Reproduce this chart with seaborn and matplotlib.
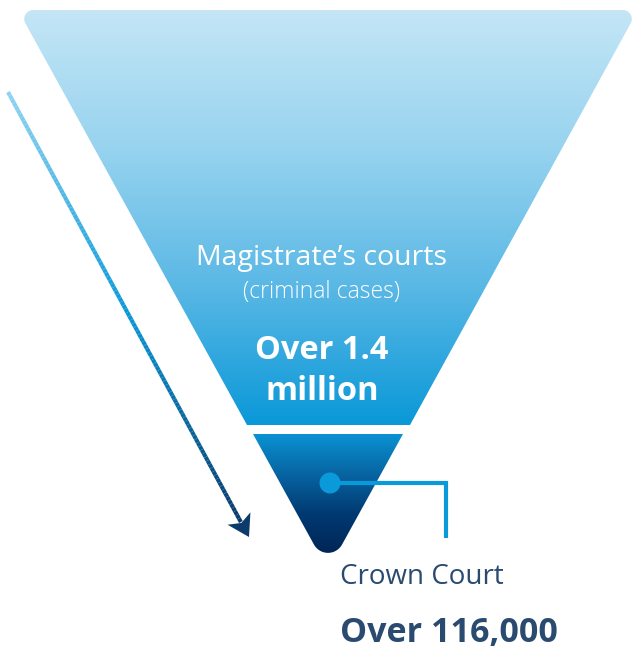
import numpy as np
import matplotlib
matplotlib.use("Agg")
import matplotlib.pyplot as plt
from matplotlib.path import Path
from matplotlib.patches import PathPatch, Circle, Polygon
from matplotlib.collections import LineCollection
import seaborn as sns

# ---- data ----
stages = ["Magistrate\u2019s courts", "Crown Court"]
stage_notes = ["(criminal cases)", ""]
case_labels = ["Over 1.4\nmillion", "Over 116,000"]

sns.set_theme(style="white")
plt.rcParams["font.family"] = ["Open Sans", "DejaVu Sans"]

W, H = 636, 649
fig = plt.figure(figsize=(W / 100, H / 100), dpi=100)
ax = fig.add_axes([0, 0, 1, 1])
ax.set_xlim(0, W)
ax.set_ylim(H, 0)
ax.axis("off")


def filleted_path(pts, radii):
    """Polygon path whose corners are rounded by circular arcs of given radius."""
    pts = [np.array(p, float) for p in pts]
    n = len(pts)
    verts = []
    for i in range(n):
        p, prev, nxt, R = pts[i], pts[i - 1], pts[(i + 1) % n], radii[i]
        if R <= 0:
            verts.append(p)
            continue
        e1 = (prev - p) / np.linalg.norm(prev - p)
        e2 = (nxt - p) / np.linalg.norm(nxt - p)
        half = np.arccos(np.clip(e1 @ e2, -1, 1)) / 2
        bis = (e1 + e2) / np.linalg.norm(e1 + e2)
        c = p + bis * R / np.sin(half)
        a = p + e1 * R / np.tan(half)
        b = p + e2 * R / np.tan(half)
        a0 = np.arctan2(*(a - c)[::-1])
        a1 = np.arctan2(*(b - c)[::-1])
        d = (a1 - a0 + np.pi) % (2 * np.pi) - np.pi
        for t in np.linspace(0, 1, 24):
            ang = a0 + d * t
            verts.append(c + R * np.array([np.cos(ang), np.sin(ang)]))
    verts.append(verts[0])
    codes = [Path.MOVETO] + [Path.LINETO] * (len(verts) - 2) + [Path.CLOSEPOLY]
    return Path(verts, codes)


def gradient_fill(path, y0, y1, cmap):
    patch = PathPatch(path, facecolor="none", edgecolor="none")
    ax.add_patch(patch)
    grad = np.linspace(0, 1, 256).reshape(-1, 1)
    xs = path.vertices[:, 0]
    im = ax.imshow(grad, extent=(xs.min() - 2, xs.max() + 2, y1, y0),
                   cmap=cmap, aspect="auto", origin="upper", zorder=1)
    im.set_clip_path(patch)


# upper funnel section
upper_cmap = sns.blend_palette(["#c4e6f6", "#97d3ef", "#5ab8e5", "#0a98d8"], as_cmap=True)
upper = filleted_path([(18, 10), (638, 10), (410, 425), (247, 425)], [9, 9, 0, 0])
gradient_fill(upper, 10, 425, upper_cmap)

# lower funnel section
lower_cmap = sns.blend_palette(["#0a92d2", "#0765a2", "#013a72", "#002656"], as_cmap=True)
lower = filleted_path([(253, 434), (403, 434), (328, 570)], [0, 0, 16])
gradient_fill(lower, 434, 553, lower_cmap)

# gradient arrow
arrow_cmap = sns.blend_palette(["#8fd3f0", "#0a9ad9", "#0b3a6b"], as_cmap=True)
start = np.array([8.0, 92.0])
tip = np.array([249.0, 537.0])
u = (tip - start) / np.linalg.norm(tip - start)
nrm = np.array([-u[1], u[0]])
base = tip - 21 * u
ts = np.linspace(0, 1, 120)
pts = start + np.outer(ts, base + 4 * u - start)
segs = np.stack([pts[:-1], pts[1:]], axis=1)
lc = LineCollection(segs, colors=arrow_cmap(ts[:-1]), linewidths=3.0, capstyle="butt")
ax.add_collection(lc)
head = Polygon([tip, base + 13 * nrm, tip - 16 * u, base - 13 * nrm],
               closed=True, facecolor="#0b3a6b", edgecolor="none", zorder=3)
ax.add_patch(head)

# connector from Crown Court section to its label
conn = "#0a9ad9"
ax.plot([330, 446, 446], [483, 483, 538], color=conn, lw=3.0,
        solid_joinstyle="miter", solid_capstyle="butt", zorder=4)
ax.add_patch(Circle((330, 483), 10.5, facecolor=conn, edgecolor="none", zorder=5))

# texts
cx = 322
ax.text(cx, 265, stages[0], color="white", fontsize=20.5, ha="center", va="baseline", zorder=6)
ax.text(cx, 298, stage_notes[0], color="white", fontsize=16.5, ha="center", va="baseline",
        fontweight="light", zorder=6)
big_lines = case_labels[0].split("\n")
for line, yb in zip(big_lines, [359, 400]):
    ax.text(cx, yb, line, color="white", fontsize=23.5, ha="center", va="baseline",
            fontweight="bold", zorder=6)

navy = "#2a4a70"
ax.text(340, 584, stages[1], color=navy, fontsize=20, ha="left", va="baseline", zorder=6)
ax.text(340, 642, case_labels[1], color=navy, fontsize=24.5, ha="left", va="baseline",
        fontweight="bold", zorder=6)

fig.savefig("out.png", dpi=100)
